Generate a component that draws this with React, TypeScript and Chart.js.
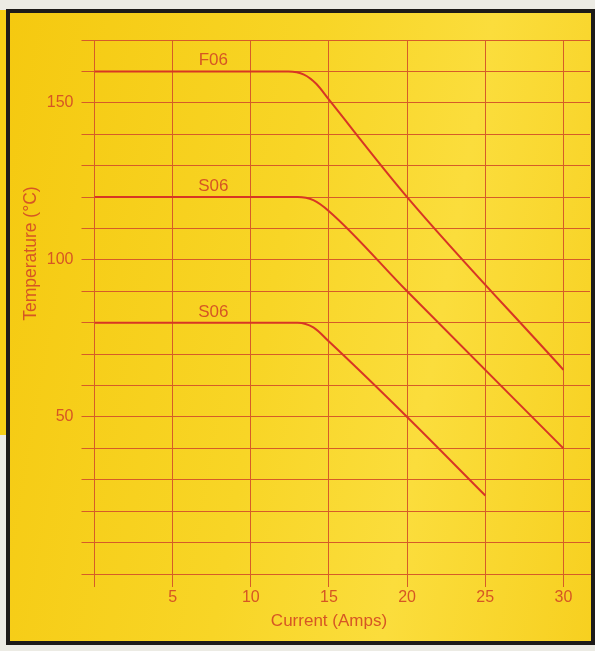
import React, { useEffect, useRef } from 'react';
import { Chart, registerables } from 'chart.js';

Chart.register(...registerables);

// Data (Current in Amps, Temperature in °C)
const f06X = [0, 12.4, 13.4, 14.2, 15, 20, 30];
const f06Y = [160, 160, 159, 156, 151, 120, 65];
const s06aX = [0, 13, 14, 15, 20, 30];
const s06aY = [120, 120, 119, 115.5, 90, 40];
const s06bX = [0, 13, 14, 15, 20, 25];
const s06bY = [80, 80, 78.5, 74, 50, 25];
const seriesNames = ['F06', 'S06', 'S06'];
const seriesLabelX = [7.6, 7.6, 7.6];

const xTicks = [0, 5, 10, 15, 20, 25, 30];
const xTickLabels = ['', '5', '10', '15', '20', '25', '30'];
const yGridTicks = [0, 10, 20, 30, 40, 50, 60, 70, 80, 90, 100, 110, 120, 130, 140, 150, 160, 170];
const yTickLabels = [50, 100, 150];
const xTitle = 'Current (Amps)';
const yTitle = 'Temperature (°C)';

const RED = 'rgb(216, 54, 36)';
const GRID = 'rgb(214, 92, 40)';
const TEXT = 'rgb(214, 86, 36)';
const FONT = '"Liberation Sans", Arial, Helvetica, sans-serif';

const toPts = (xs: number[], ys: number[]) => xs.map((x, i) => ({ x, y: ys[i] }));

export default function App() {
  const ref = useRef<HTMLCanvasElement | null>(null);

  useEffect(() => {
    if (!ref.current) return;
    const series = [toPts(f06X, f06Y), toPts(s06aX, s06aY), toPts(s06bX, s06bY)];

    const labelsPlugin = {
      id: 'labelsPlugin',
      afterDatasetsDraw(chart: any) {
        const { ctx, chartArea } = chart;
        const xs = chart.scales.x;
        const ys = chart.scales.y;
        ctx.save();
        ctx.fillStyle = TEXT;
        // series names
        ctx.font = `17px ${FONT}`;
        ctx.textAlign = 'center';
        ctx.textBaseline = 'alphabetic';
        series.forEach((pts, i) => {
          const px = xs.getPixelForValue(seriesLabelX[i]);
          const py = ys.getPixelForValue(pts[0].y) - 6;
          ctx.fillText(seriesNames[i], px, py);
        });
        // x title
        ctx.font = `17px ${FONT}`;
        ctx.textBaseline = 'middle';
        ctx.fillText(xTitle, xs.getPixelForValue(15), chartArea.bottom + 47);
        // y title
        ctx.font = `17.5px ${FONT}`;
        ctx.translate(31, ys.getPixelForValue(102));
        ctx.rotate(-Math.PI / 2);
        ctx.fillText(yTitle, 0, 0);
        ctx.restore();
      },
    };

    const chart = new Chart(ref.current, {
      type: 'line',
      data: {
        datasets: series.map((pts, i) => ({
          label: seriesNames[i] + (i === 2 ? ' ' : ''),
          data: pts,
          borderColor: RED,
          borderWidth: 2,
          pointRadius: 0,
          fill: false,
          cubicInterpolationMode: 'monotone' as const,
        })),
      },
      options: {
        responsive: false,
        animation: false,
        parsing: false,
        layout: { padding: { left: 0, top: 40, right: 5, bottom: 0 } },
        plugins: {
          legend: { display: false },
          tooltip: { enabled: false },
        },
        scales: {
          x: {
            type: 'linear',
            min: 0,
            max: 31.7,
            afterBuildTicks: (scale: any) => {
              scale.ticks = xTicks.map((v) => ({ value: v }));
            },
            afterFit: (scale: any) => {
              scale.height = 77;
            },
            grid: {
              color: GRID,
              lineWidth: 1,
              tickLength: 13,
              tickColor: GRID,
            },
            border: { display: true, color: GRID, width: 1 },
            ticks: {
              padding: 1,
              color: TEXT,
              font: { family: FONT, size: 16 },
              maxRotation: 0,
              autoSkip: false,
              callback: (v: any) => {
                const i = xTicks.indexOf(Number(v));
                return i >= 0 ? xTickLabels[i] : '';
              },
            },
          },
          y: {
            type: 'linear',
            min: 0,
            max: 170,
            afterBuildTicks: (scale: any) => {
              scale.ticks = yGridTicks.map((v) => ({ value: v }));
            },
            afterFit: (scale: any) => {
              scale.width = 94.5;
            },
            grid: {
              color: GRID,
              lineWidth: 1,
              tickLength: 13,
              tickColor: GRID,
            },
            border: { display: true, color: GRID, width: 1 },
            ticks: {
              padding: 8,
              color: TEXT,
              font: { family: FONT, size: 16 },
              autoSkip: false,
              callback: (v: any) => (yTickLabels.includes(Number(v)) ? String(v) : ''),
            },
          },
        },
      },
      plugins: [labelsPlugin],
    } as any);

    return () => chart.destroy();
  }, []);

  return (
    <div
      style={{
        position: 'fixed',
        left: 0,
        top: 0,
        width: 595,
        height: 651,
        background: '#ecebe4',
        overflow: 'hidden',
      }}
    >
      <div
        style={{
          position: 'absolute',
          left: 0,
          top: 10,
          width: 8,
          height: 425,
          background: '#f6cf16',
        }}
      />
      <div
        style={{
          position: 'absolute',
          left: 6,
          top: 9,
          width: 595 - 6,
          height: 645 - 9,
          boxSizing: 'border-box',
          border: '4px solid #1d1b19',
          background: 'linear-gradient(100deg, #f5c910 0%, #f8d526 45%, #fbdd3c 70%, #f7d020 100%)',
        }}
      />
      <canvas
        ref={ref}
        width={595}
        height={651}
        style={{ position: 'absolute', left: 0, top: 0, width: 595, height: 651 }}
      />
    </div>
  );
}
